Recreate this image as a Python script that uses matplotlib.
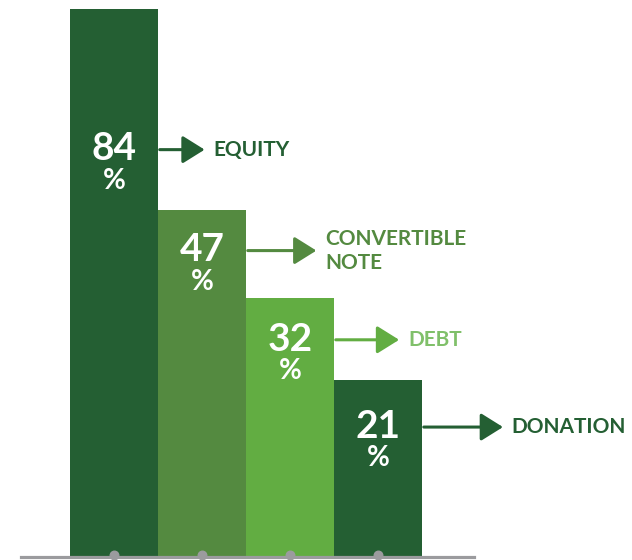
import matplotlib.pyplot as plt

# values shown on the bars and the heights the bars are actually drawn at
categories = ["EQUITY", "CONVERTIBLE\nNOTE", "DEBT", "DONATION"]
values = [84, 47, 32, 21]
bar_heights = [84, 53.1, 39.6, 27.0]

bar_colors = ["#245f33", "#548a40", "#62ad42", "#245f33"]
text_colors = ["#245f33", "#548a40", "#80c06a", "#245f33"]

plt.rcParams['font.family'] = ['Lato', 'DejaVu Sans']

fig = plt.figure(figsize=(6.32, 5.60), dpi=100)
ax = fig.add_axes([0, 0, 1, 1])
ax.set_xlim(-1.295, 5.886)
ax.set_ylim(-0.614, 85.38)
ax.axis("off")

x = range(len(values))
ax.bar(x, bar_heights, width=1.0, color=bar_colors, zorder=2)

# grey baseline with little bumps under each bar
ax.axhline(-0.23, xmin=0.033, xmax=0.75, color="#9b9b9e", lw=2.3, zorder=4)
ax.scatter(list(x), [0.1] * len(values), s=38, color="#9b9b9e", zorder=3)

# where the arrow / number sits, and how long each arrow is (in bar widths)
label_y = [62.4, 46.9, 33.2, 19.8]
arrow_len = [0.53, 0.80, 0.74, 0.92]

for i, (v, cat) in enumerate(zip(values, categories)):
    y = label_y[i]
    ax.text(i, y + 0.1, str(v), color="white", fontsize=28, fontweight="bold",
            ha="center", va="center", zorder=5)
    ax.text(i, y - 4.8, "%", color="white", fontsize=20, fontweight="bold",
            ha="center", va="center", zorder=5)
    x0 = i + 0.5
    x1 = x0 + arrow_len[i]
    ax.annotate("", xy=(x1, y), xytext=(x0 + 0.02, y),
                arrowprops=dict(arrowstyle="-|>,head_length=0.8,head_width=0.5",
                                lw=2.2, color=bar_colors[i], mutation_scale=17,
                                shrinkA=0, shrinkB=0))
    ax.text(x1 + 0.1, y, cat, color=text_colors[i], fontsize=15,
            fontweight="bold", ha="left", va="center", linespacing=1.25)

fig.savefig("out.png", dpi=100)
